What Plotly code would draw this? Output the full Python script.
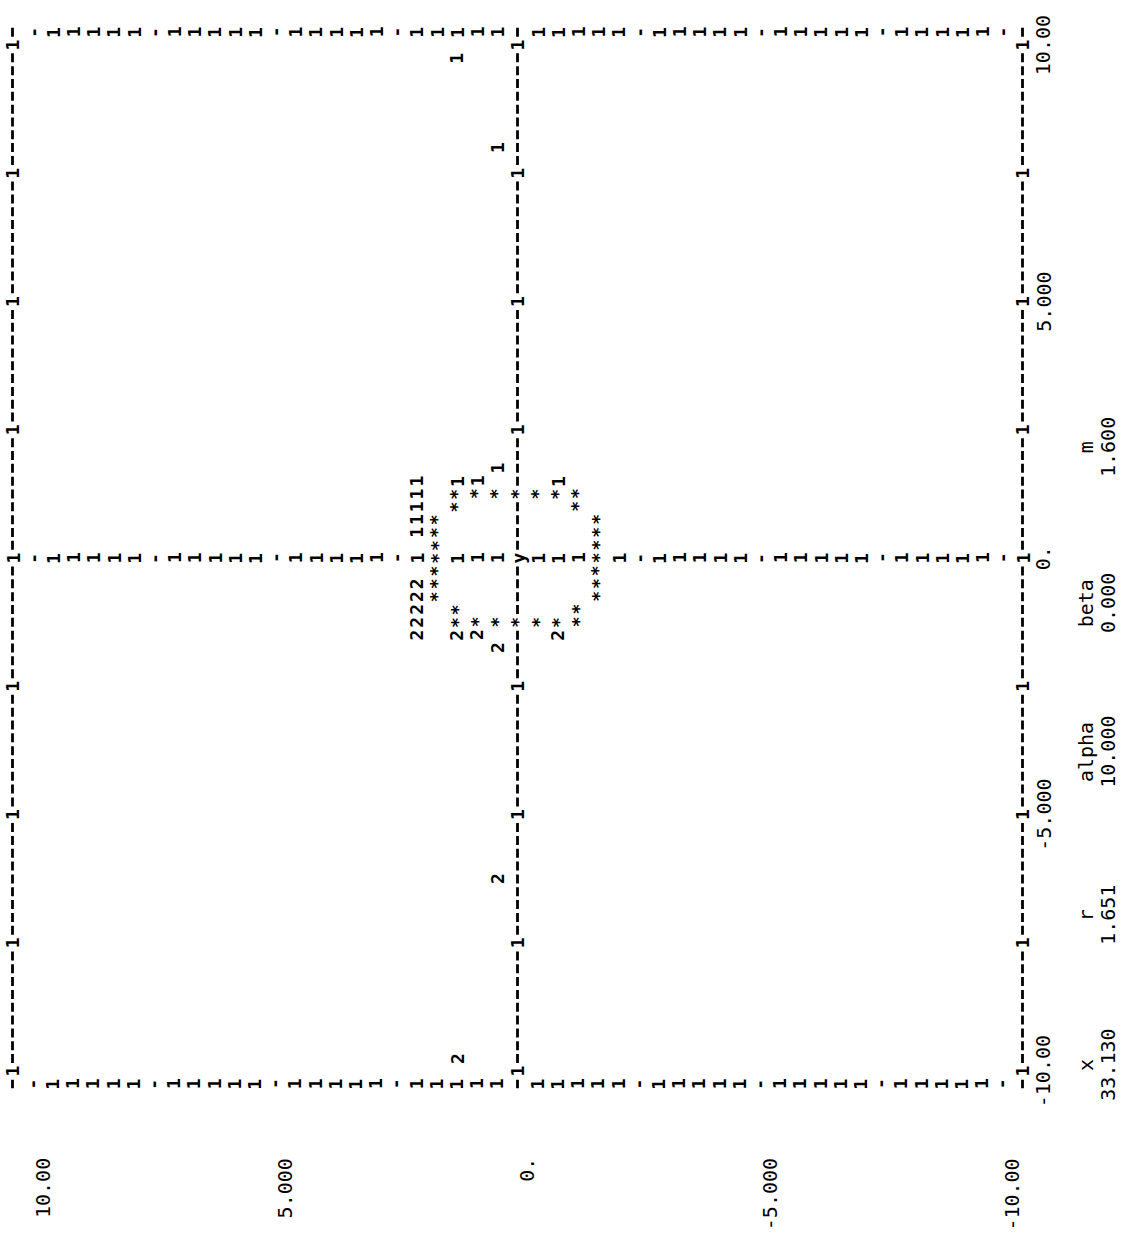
import plotly.graph_objects as go

# ------------------------------------------------------------------
# Data, in the coordinates of the original line-printer plot
# (X = abscissa -10..10, Y = ordinate -10..10).  The page is printed
# rotated 90 degrees, so X runs down the page and Y runs right-to-left.
# ------------------------------------------------------------------
star_X = [1.25, 1.25, 1.25, 1.25, 1.25, 1.25, 1.25,
          1.0, 1.0,
          0.75, 0.5, 0.25, 0.0, -0.25, -0.5, -0.75,
          0.75, 0.5, 0.25, 0.0, -0.25, -0.5, -0.75,
          -1.0, -1.0,
          -1.25, -1.25, -1.25, -1.25, -1.25, -1.25, -1.25]
star_Y = [1.2, 0.8, 0.4, 0.0, -0.4, -0.8, -1.2,
          1.2, -1.2,
          1.6, 1.6, 1.6, 1.6, 1.6, 1.6, 1.6,
          -1.6, -1.6, -1.6, -1.6, -1.6, -1.6, -1.6,
          1.2, -1.2,
          1.2, 0.8, 0.4, 0.0, -0.4, -0.8, -1.2]

curve1_X = [1.5, 1.25, 1.0, 0.75, 0.5, 1.5, 1.5, 1.75, 1.5, 9.75, 8.0]
curve1_Y = [2.0, 2.0, 2.0, 2.0, 2.0, 1.2, 0.8, 0.4, -0.8, 1.2, 0.4]

curve2_X = [-0.5, -0.75, -1.0, -1.25, -1.5, -1.5, -1.5, -1.75, -1.5, -9.75, -6.25]
curve2_Y = [2.0, 2.0, 2.0, 2.0, 2.0, 1.2, 0.8, 0.4, -0.8, 1.2, 0.4]

# axis labels
x_tick_vals = [10.0, 5.0, 0.0, -5.0, -10.0]
x_tick_text = ["10.00", "5.000", "0.", "-5.000", "-10.00"]
y_tick_vals = [9.4, 4.6, -0.2, -5.0, -9.8]
y_tick_text = ["10.00", "5.000", "0.", "-5.000", "-10.00"]

# parameter block
param_names = ["x", "r", "alpha", "beta", "m"]
param_values = ["33.130", "1.651", "10.000", "0.000", "1.600"]
param_pos = [-9.88, -6.96, -3.78, -0.88, 2.16]

# frame of the printer plot
rule_Y = [10.0, 0.0, -10.0]           # dashed rules
frame_X = [10.25, 0.0, -10.25]        # rows of '1' characters
rule_ticks = [10.0, 7.5, 5.0, 2.5, 0.0, -2.5, -5.0, -7.5, -10.0]
line_step = 0.4
n_lines = 50

# ------------------------------------------------------------------
FONT = "DejaVu Sans Mono"
fig = go.Figure()

for yv in rule_Y:
    fig.add_trace(go.Scatter(
        x=[yv, yv], y=[10.338, -10.338], mode="lines",
        line=dict(color="black", width=2.8, dash="9px,3.83px"),
        hoverinfo="skip", showlegend=False))

ann = []


def ch(yv, xv, t, size=18, weight="bold", **kw):
    d = dict(x=yv, y=xv, xref="x", yref="y", text=t, showarrow=False,
             textangle=-90,
             font=dict(family=FONT, size=size, color="black", weight=weight),
             xanchor="center", yanchor="middle", borderpad=0)
    d.update(kw)
    ann.append(d)


occupied = set()
for xs, ys in ((star_X, star_Y), (curve1_X, curve1_Y), (curve2_X, curve2_Y)):
    for a, b in zip(xs, ys):
        occupied.add((round(a, 3), round(b, 3)))

# rows of '1' (vertical rules of the printout)
for xr in frame_X:
    for j in range(1, n_lines):
        yv = round(10.0 - line_step * j, 3)
        if (round(xr, 3), yv) in occupied:
            continue
        if j == n_lines // 2:
            if xr == 0.0:
                ch(yv, xr, "y", bgcolor="white")
            continue
        ch(yv, xr, "-" if j % 6 == 1 else "1",
           bgcolor="white" if yv in rule_Y else None)

# tick marks on the dashed rules
for yv in rule_Y:
    for xt in rule_ticks:
        if yv == 0.0 and xt == 0.0:
            continue
        ch(yv, xt, "1", bgcolor="white")

# data characters
for a, b in zip(star_X, star_Y):
    ch(b, a, "*", bgcolor="white" if b in rule_Y else None)
for a, b in zip(curve1_X, curve1_Y):
    ch(b, a, "1")
for a, b in zip(curve2_X, curve2_Y):
    ch(b, a, "2")

# axis labels
for v, t in zip(x_tick_vals, x_tick_text):
    ch(-10.41, v, t, size=20, weight="normal")
for v, t in zip(y_tick_vals, y_tick_text):
    ch(v, -11.68, t, size=20, weight="normal", yanchor="top")

# parameters
for v, n, val in zip(param_pos, param_names, param_values):
    ch(-11.26, v, n, size=20, weight="normal")
    ch(-11.69, v, val, size=20, weight="normal")

fig.update_layout(
    width=1144, height=1238, autosize=False,
    margin=dict(l=0, r=0, t=0, b=0, pad=0),
    paper_bgcolor="white", plot_bgcolor="white",
    xaxis=dict(range=[10.2475, -12.406], visible=False, fixedrange=True),
    yaxis=dict(range=[-13.255, 10.877], visible=False, fixedrange=True),
    annotations=ann,
    showlegend=False,
)

fig.write_html("out.html",
               config={"displayModeBar": False, "staticPlot": True},
               post_script="document.body.style.margin='0px';")
